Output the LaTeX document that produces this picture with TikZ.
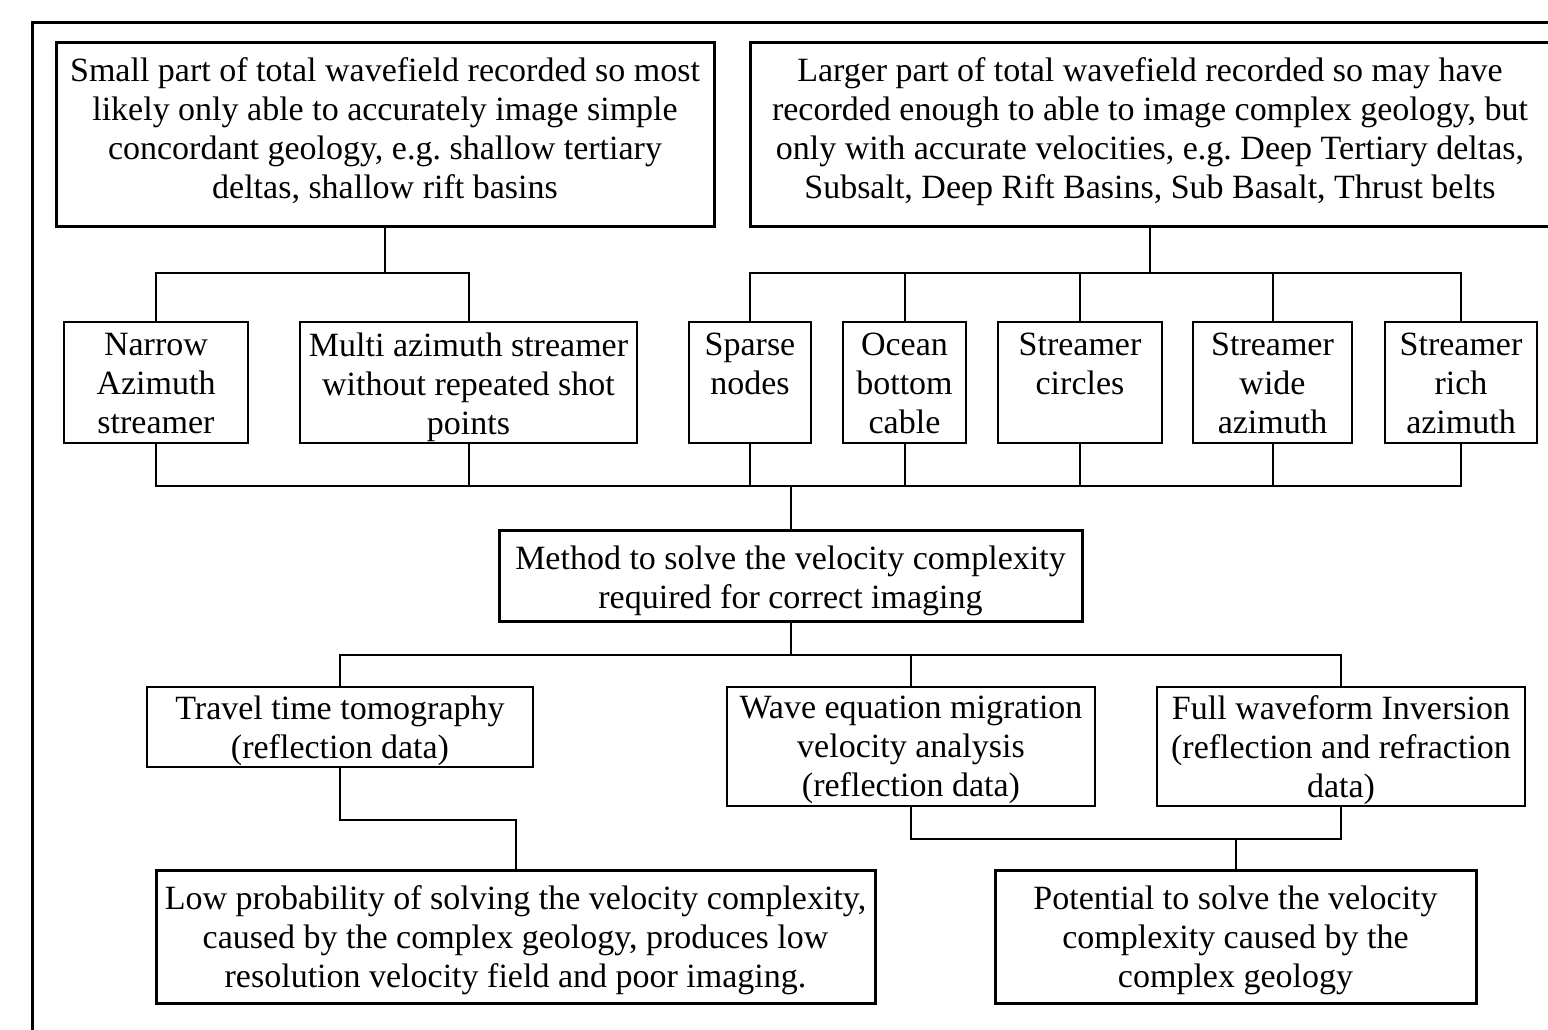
\documentclass[tikz,border=0pt]{standalone}
\usepackage{fontspec}
\setmainfont{Liberation Serif}
\frenchspacing
\newcommand\mkbox[6]{\node[#6, minimum width={#4-#2}, minimum height={#5-#3}] (#1) at ({(#2+#4)/2},{(#3+#5)/2}) {};}
\newcommand\mktext[4]{\node[txt, anchor=north] (#1) at (#2,{#3-21.3}) {#4};}
\begin{document}
\begin{tikzpicture}[x=1pt,y=-1pt,
  box/.style={draw, line width=2pt, inner sep=0pt, outer sep=0pt},
  bigbox/.style={box, line width=3pt},
  txt/.style={inner sep=0pt, align=center, font=\fontsize{34}{39}\selectfont\frenchspacing, execute at begin node=\strut},
  conn/.style={line width=2pt}]
\useasboundingbox (0,0) rectangle (1548,1029);
\fill[white] (0,0) rectangle (1548,1029);
% outer frame
\coordinate (fbl) at (32,1040);
\coordinate (ftl) at (32,22);
\coordinate (ftr) at (1570,22);
\draw[line width=3pt] (fbl) -- (ftl) -- (ftr);
% top boxes
\mkbox{b1}{56}{42}{714}{226}{bigbox}
\mkbox{b2}{750}{42}{1550}{226}{bigbox}
\mktext{b1t}{385}{79}{Small part of total wavefield recorded so most\\likely only able to accurately image simple\\concordant geology, e.g. shallow tertiary\\deltas, shallow rift basins}
\mktext{b2t}{1150}{79}{Larger part of total wavefield recorded so may have\\recorded enough to able to image complex geology, but\\only with accurate velocities, e.g. Deep Tertiary deltas,\\Subsalt, Deep Rift Basins, Sub Basalt, Thrust belts}
% row 2
\mkbox{nar}{64}{322}{248}{443}{box}
\mkbox{mul}{300}{322}{637}{443}{box}
\mkbox{spa}{689}{322}{811}{443}{box}
\mkbox{oce}{843}{322}{966}{443}{box}
\mkbox{cir}{998}{322}{1162}{443}{box}
\mkbox{wid}{1193}{322}{1352}{443}{box}
\mkbox{ric}{1385}{322}{1537}{443}{box}
\mktext{nart}{156}{354}{Narrow\\Azimuth\\streamer}
\mktext{mult}{468.5}{354}{Multi azimuth streamer\\without repeated shot\\points}
\mktext{spat}{750}{354}{Sparse\\nodes}
\mktext{ocet}{904.5}{354}{Ocean\\bottom\\cable}
\mktext{cirt}{1080}{354}{Streamer\\circles}
\mktext{widt}{1272.5}{354}{Streamer\\wide\\azimuth}
\mktext{rict}{1461}{354}{Streamer\\rich\\azimuth}
% method
\mkbox{met}{499}{530}{1082}{621}{bigbox}
\mktext{mett}{790.5}{567}{Method to solve the velocity complexity\\required for correct imaging}
% row 3
\mkbox{tra}{147}{687}{533}{767}{box}
\mkbox{wav}{727}{687}{1095}{806}{box}
\mkbox{ful}{1157}{687}{1525}{806}{box}
\mktext{trat}{340}{717}{Travel time tomography\\(reflection data)}
\mktext{wavt}{911}{717}{Wave equation migration\\velocity analysis\\(reflection data)}
\mktext{fult}{1341}{717}{Full waveform Inversion\\(reflection and refraction\\data)}
% bottom
\mkbox{low}{156}{870}{875}{1003}{bigbox}
\mkbox{pot}{995}{870}{1476}{1003}{bigbox}
\mktext{lowt}{515.5}{907}{Low probability of solving the velocity complexity,\\caused by the complex geology, produces low\\resolution velocity field and poor imaging.}
\mktext{pott}{1235.5}{907}{Potential to solve the velocity\\complexity caused by the\\complex geology}
% junction levels
\coordinate (j1) at (0,273);
\coordinate (j2) at (0,486);
\coordinate (j3) at (0,655);
\coordinate (j4) at (0,820);
\coordinate (j5) at (0,839);
% connectors top-left
\draw[conn] (b1.south) -- (b1.south |- j1);
\draw[conn] (nar.north) -- (nar.north |- j1) -- (mul.north |- j1) -- (mul.north);
% connectors top-right
\draw[conn] (b2.south) -- (b2.south |- j1);
\draw[conn] (spa.north) -- (spa.north |- j1) -- (ric.north |- j1) -- (ric.north);
\draw[conn] (oce.north) -- (oce.north |- j1);
\draw[conn] (cir.north) -- (cir.north |- j1);
\draw[conn] (wid.north) -- (wid.north |- j1);
% row 2 to method
\draw[conn] (nar.south) -- (nar.south |- j2) -- (ric.south |- j2) -- (ric.south);
\draw[conn] (mul.south) -- (mul.south |- j2);
\draw[conn] (spa.south) -- (spa.south |- j2);
\draw[conn] (oce.south) -- (oce.south |- j2);
\draw[conn] (cir.south) -- (cir.south |- j2);
\draw[conn] (wid.south) -- (wid.south |- j2);
\draw[conn] (met.north |- j2) -- (met.north);
% method to row 3
\draw[conn] (met.south) -- (met.south |- j3);
\draw[conn] (tra.north) -- (tra.north |- j3) -- (ful.north |- j3) -- (ful.north);
\draw[conn] (wav.north) -- (wav.north |- j3);
% row 3 to bottom
\draw[conn] (tra.south) -- (tra.south |- j4) -- (low.north |- j4) -- (low.north);
\draw[conn] (wav.south) -- (wav.south |- j5) -- (ful.south |- j5) -- (ful.south);
\draw[conn] (pot.north |- j5) -- (pot.north);
\end{tikzpicture}
\end{document}
